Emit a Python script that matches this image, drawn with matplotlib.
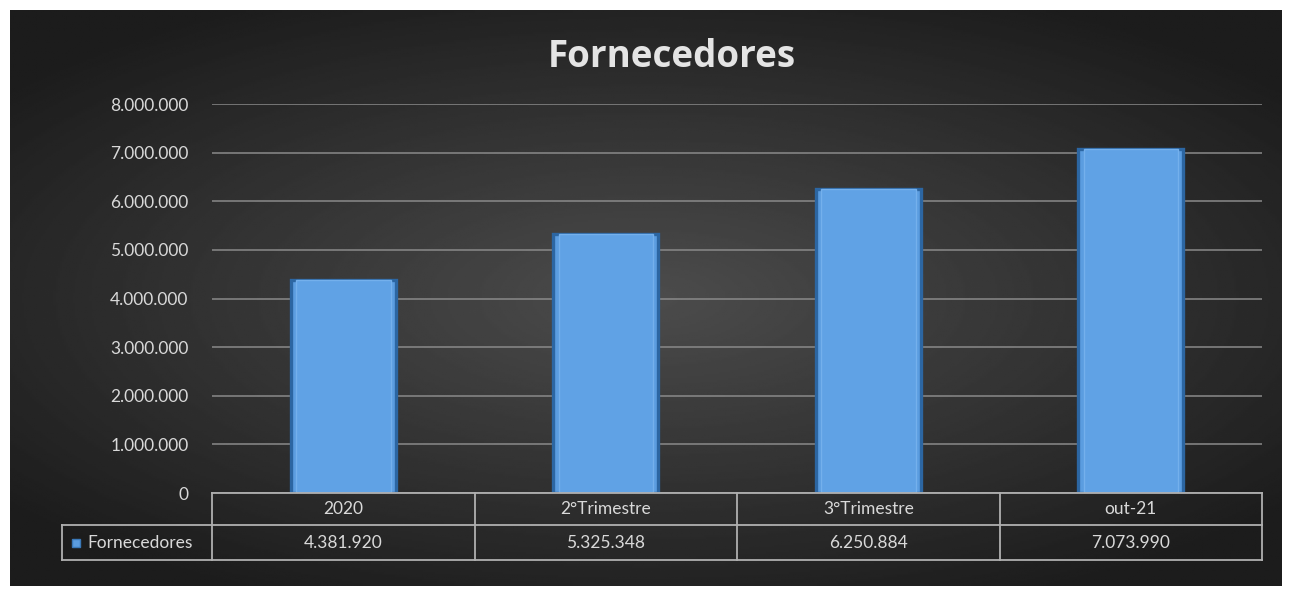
import numpy as np
import matplotlib.pyplot as plt
from matplotlib.transforms import blended_transform_factory

plt.rcParams['font.family'] = ['Lato', 'DejaVu Sans']

categorias = ['2020', '2°Trimestre', '3°Trimestre', 'out-21']
valores = [4381920, 5325348, 6250884, 7073990]
serie = 'Fornecedores'
yticks = [0, 1000000, 2000000, 3000000, 4000000, 5000000, 6000000, 7000000, 8000000]


def fmt_br(v):
    return f'{v:,.0f}'.replace(',', '.')


W, H = 1292, 596
fig = plt.figure(figsize=(W / 100, H / 100), dpi=100, facecolor='white')

# fundo escuro com degradê radial
bg = fig.add_axes([10 / W, 10 / H, 1 - 20 / W, 1 - 20 / H])
yy, xx = np.mgrid[-1:1:300j, -1:1:600j]
r = np.sqrt(xx ** 2 + (yy / 0.9) ** 2)
grad = 0.11 + 0.19 * np.clip(1 - r / 1.3, 0, 1)
bg.imshow(grad, cmap='gray', vmin=0, vmax=1, aspect='auto', extent=(0, 1, 0, 1))
bg.set_axis_off()

ax = fig.add_axes([212 / W, 1 - 493 / H, 1050 / W, 389 / H])
ax.set_facecolor('none')
x = np.arange(len(categorias))
ax.bar(x, valores, width=0.4, color='#5b9de0', edgecolor='#2c66a2', linewidth=2.4, zorder=3)
ax.bar(x, valores, width=0.36, color='#60a2e5', edgecolor='#74b0ec', linewidth=1.0, zorder=4)

ax.set_xlim(-0.5, len(categorias) - 0.5)
ax.set_ylim(0, 8000000)
ax.set_yticks(yticks)
ax.set_yticklabels([fmt_br(v) for v in yticks], color='#d9d9d9', fontsize=12.5)
ax.tick_params(axis='y', length=0, pad=17)
ax.set_xticks([])
ax.grid(axis='y', color='#8a8a8a', linewidth=1.1, zorder=1)
for s in ax.spines.values():
    s.set_visible(False)

# tabela de dados abaixo do gráfico
tr = blended_transform_factory(ax.transData, ax.transAxes)
h1, h2 = -32 / 389, -67 / 389
left = -0.5 - 150 / 262.5
right = len(categorias) - 0.5
lc = '#b0b0b0'
kw = dict(transform=tr, color=lc, linewidth=1.3, clip_on=False, zorder=5)
ax.plot([-0.5, right], [0, 0], **kw)
ax.plot([left, right], [h1, h1], **kw)
ax.plot([left, right], [h2, h2], **kw)
ax.plot([left, left], [h1, h2], **kw)
for b in np.arange(len(categorias) + 1) - 0.5:
    ax.plot([b, b], [0, h2], **kw)

for i, (c, v) in enumerate(zip(categorias, valores)):
    ax.text(i, h1 / 2, c, transform=tr, ha='center', va='center', color='#d9d9d9', fontsize=12.5)
    ax.text(i, (h1 + h2) / 2, fmt_br(v), transform=tr, ha='center', va='center', color='#d9d9d9', fontsize=12.5)

ax.plot([left + 0.055], [(h1 + h2) / 2], transform=tr, marker='s', markersize=6,
        color='#5b9de0', markeredgecolor='#3a78b8', clip_on=False)
ax.text(left + 0.095, (h1 + h2) / 2, serie, transform=tr, ha='left', va='center', color='#d9d9d9', fontsize=12.5)

fig.text(672 / W, 1 - 57 / H, 'Fornecedores', ha='center', va='center', color='#e4e4e4',
         fontsize=26.5, fontweight='bold', family=['Open Sans', 'DejaVu Sans'])

fig.savefig('out.png', dpi=100, facecolor='white')
